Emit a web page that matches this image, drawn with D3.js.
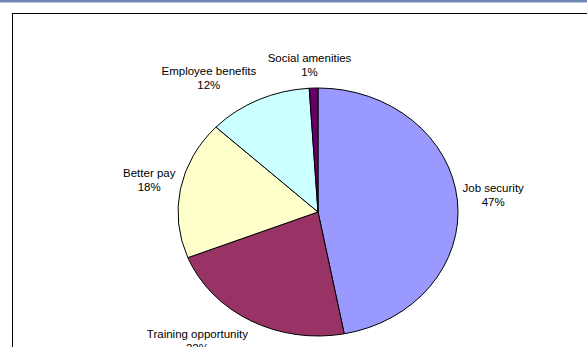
<!DOCTYPE html>
<html>
<head>
<meta charset="utf-8">
<script src="https://cdn.jsdelivr.net/npm/d3@7"></script>
<style>
  html, body { margin: 0; padding: 0; background: #fff; }
  svg { display: block; }
</style>
</head>
<body>
<svg id="chart" width="587" height="347"></svg>
<script>
// Reasons given, share of respondents (%)
const categories = ["Job security", "Training opportunity", "Better pay", "Employee benefits", "Social amenities"];
const shares = [47, 22, 18, 12, 1];
const colors = ["#9999FF", "#993366", "#FFFFCC", "#CCFFFF", "#660066"];

const W = 587, H = 347;
const svg = d3.select("#chart");

// header strip
svg.append("rect").attr("x", 0).attr("y", 0).attr("width", W).attr("height", 2.5).attr("fill", "#7289b5");

// chart frame
svg.append("rect")
  .attr("x", 12.5).attr("y", 13.5).attr("width", 600).attr("height", 360)
  .attr("fill", "#fff").attr("stroke", "#000").attr("stroke-width", 1);

const cx = 318, cy = 212, rx = 140, ry = 124;
const sx = rx / ry;

const data = categories.map((c, i) => ({ name: c, value: shares[i], color: colors[i] }));
const pie = d3.pie().value(d => d.value).sort(null);
const arcs = pie(data);
const arc = d3.arc().innerRadius(0).outerRadius(ry);

const g = svg.append("g").attr("transform", `translate(${cx},${cy}) scale(${sx},1)`);
g.selectAll("path").data(arcs).join("path")
  .attr("d", arc)
  .attr("fill", d => d.data.color)
  .attr("stroke", "#000")
  .attr("stroke-width", 1)
  .attr("vector-effect", "non-scaling-stroke")
  .attr("stroke-linejoin", "round");

// labels: name and percentage in a box set just outside the rim at the slice's mid-angle
const fontSize = 11.5, lineH = 14, boxH = 26;
const gapX = 5, gapY = 9;
const clamp = v => Math.max(-1, Math.min(1, v));
const labels = svg.append("g")
  .attr("font-family", "Arial, 'Liberation Sans', sans-serif")
  .attr("font-size", fontSize)
  .attr("fill", "#000")
  .attr("text-anchor", "middle");

arcs.forEach(d => {
  const t = labels.append("text");
  t.append("tspan").attr("x", 0).attr("dy", 0).text(d.data.name);
  t.append("tspan").attr("x", 0).attr("dy", lineH).text(d3.format(".0f")(d.data.value) + "%");
  const w = t.node().getBBox().width;
  const a = (d.startAngle + d.endAngle) / 2;
  const s = Math.sin(a), c = Math.cos(a);
  // anchor point on the rim, pushed out by a small gap
  const ax = cx + s * (rx + gapX);
  const ay = cy - c * (ry + gapY);
  // box centre: slides fully off the anchor except near the horizontal/vertical
  const bx = ax + (w / 2) * clamp(s * 3);
  const by = ay - (boxH / 2) * clamp(c * 2.5);
  const baseline1 = by - boxH / 2 + 9;
  t.attr("transform", `translate(${bx},${baseline1})`);
});
</script>
</body>
</html>
